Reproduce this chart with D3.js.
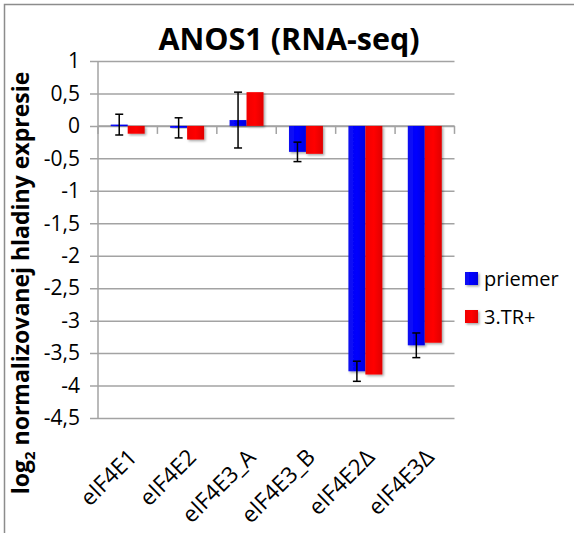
<!DOCTYPE html>
<html>
<head>
<meta charset="utf-8">
<script src="https://cdn.jsdelivr.net/npm/d3@7"></script>
<style>
  html, body { margin: 0; padding: 0; background: #fff; }
  svg { display: block; }
  text { font-family: "Open Sans", "Noto Sans", sans-serif; fill: #000; }
</style>
</head>
<body>
<svg id="chart" width="574" height="533"></svg>
<script>
const categories = ["eIF4E1", "eIF4E2", "eIF4E3_A", "eIF4E3_B", "eIF4E2\u0394", "eIF4E3\u0394"];
const seriesNames = ["priemer", "3.TR+"];
const priemer = [0.02, -0.03, 0.09, -0.40, -3.78, -3.38];
const tr3 = [-0.12, -0.21, 0.52, -0.43, -3.83, -3.34];
const priemerErr = [0.16, 0.155, 0.43, 0.15, 0.155, 0.19];
const yTicks = [1, 0.5, 0, -0.5, -1, -1.5, -2, -2.5, -3, -3.5, -4, -4.5];

(function () {
const svg = d3.select("#chart");
const defs = svg.append("defs");

function grad(id, c1, c2, c3) {
  const g = defs.append("linearGradient").attr("id", id)
    .attr("x1", "0%").attr("x2", "100%").attr("y1", "0%").attr("y2", "0%");
  g.append("stop").attr("offset", "0%").attr("stop-color", c1);
  g.append("stop").attr("offset", "50%").attr("stop-color", c2);
  g.append("stop").attr("offset", "100%").attr("stop-color", c3);
}
grad("gBlue", "#1010f0", "#0000ff", "#0000e0");
grad("gRed", "#f00000", "#ff0000", "#e00000");
const f = defs.append("filter").attr("id", "shadow").attr("x", "-20%").attr("y", "-20%").attr("width", "150%").attr("height", "150%");
f.append("feDropShadow").attr("dx", 1.5).attr("dy", 1.5).attr("stdDeviation", 1).attr("flood-color", "#000").attr("flood-opacity", 0.35);

svg.append("path").attr("d", "M4.5,533 L4.5,4.5 L574,4.5").attr("fill", "none").attr("stroke", "#8c8c8c").attr("stroke-width", 1.5);

const pL = 98, pR = 454.5, pT = 61, pB = 418;
const y = d3.scaleLinear().domain([-4.5, 1]).range([pB, pT]);
const x0 = d3.scaleBand().domain(categories).range([pL, pR]).padding(0);
const x1 = d3.scaleBand().domain(seriesNames).range([0, x0.bandwidth()]).paddingInner(0).paddingOuter(0.75);

const yAxis = d3.axisLeft(y).tickValues(yTicks).tickSize(0).tickPadding(0)
  .tickFormat(d => String(d).replace(".", ","));
const gy = svg.append("g").attr("transform", `translate(${pL - 8},0)`).call(yAxis);
gy.select(".domain").remove();
gy.selectAll(".tick line").attr("stroke", "#a3a3a3").attr("stroke-width", 1.5).attr("x1", 0).attr("x2", pR - pL + 8);
gy.selectAll(".tick text").attr("font-size", 21).attr("fill", "#000").attr("x", -10);

svg.append("line").attr("x1", pL).attr("x2", pL).attr("y1", pT).attr("y2", pB)
  .attr("stroke", "#a3a3a3").attr("stroke-width", 1.5);

const gx = svg.append("g").attr("transform", `translate(0,${y(0)})`);
gx.append("line").attr("x1", pL).attr("x2", pR).attr("stroke", "#a3a3a3").attr("stroke-width", 1.5);
const bounds = categories.map(c => x0(c)).concat([pR]);
gx.selectAll("line.tk").data(bounds).join("line").attr("class", "tk")
  .attr("x1", d => d).attr("x2", d => d).attr("y1", 0).attr("y2", 8)
  .attr("stroke", "#a3a3a3").attr("stroke-width", 1.5);

const data = categories.map((c, i) => ({ c, vals: [priemer[i], tr3[i]] }));
const gBars = svg.append("g");
data.forEach((d) => {
  d.vals.forEach((v, j) => {
    gBars.append("rect")
      .attr("x", x0(d.c) + x1(seriesNames[j]))
      .attr("width", x1.bandwidth())
      .attr("y", Math.min(y(v), y(0)))
      .attr("height", Math.max(1.5, Math.abs(y(v) - y(0))))
      .attr("fill", j === 0 ? "url(#gBlue)" : "url(#gRed)")
      .attr("filter", "url(#shadow)");
  });
});

const gErr = svg.append("g").attr("stroke", "#000").attr("stroke-width", 1.5);
categories.forEach((c, i) => {
  const cx = x0(c) + x1(seriesNames[0]) + x1.bandwidth() / 2;
  const y1 = y(priemer[i] + priemerErr[i]), y2 = y(priemer[i] - priemerErr[i]);
  gErr.append("line").attr("x1", cx).attr("x2", cx).attr("y1", y1).attr("y2", y2);
  gErr.append("line").attr("x1", cx - 4).attr("x2", cx + 4).attr("y1", y1).attr("y2", y1);
  gErr.append("line").attr("x1", cx - 4).attr("x2", cx + 4).attr("y1", y2).attr("y2", y2);
});

svg.append("g").selectAll("text").data(categories).join("text")
  .attr("transform", d => `translate(${x0(d) + x0.bandwidth() / 2 + 5},${453}) rotate(-45)`)
  .attr("text-anchor", "end").attr("dy", "0.35em").attr("font-size", 22.5)
  .text(d => d);

svg.append("text").attr("x", 289).attr("y", 50).attr("text-anchor", "middle")
  .attr("font-size", 30.5).attr("font-weight", "bold").text("ANOS1 (RNA-seq)");

const yt = svg.append("text").attr("transform", "translate(29,283) rotate(-90)")
  .attr("text-anchor", "middle").attr("font-size", 23).attr("font-weight", "bold");
yt.append("tspan").text("log");
yt.append("tspan").attr("font-size", 15).attr("dy", 6).text("2");
yt.append("tspan").attr("dy", -6).text(" normalizovanej hladiny expresie");

const lg = svg.append("g");
seriesNames.forEach((s, j) => {
  const ly = 272 + j * 38;
  lg.append("rect").attr("x", 465).attr("y", ly).attr("width", 13).attr("height", 13)
    .attr("fill", j === 0 ? "url(#gBlue)" : "url(#gRed)").attr("filter", "url(#shadow)");
  lg.append("text").attr("x", 484).attr("y", ly + 14).attr("font-size", 20).text(s);
});
})();
</script>
</body>
</html>
